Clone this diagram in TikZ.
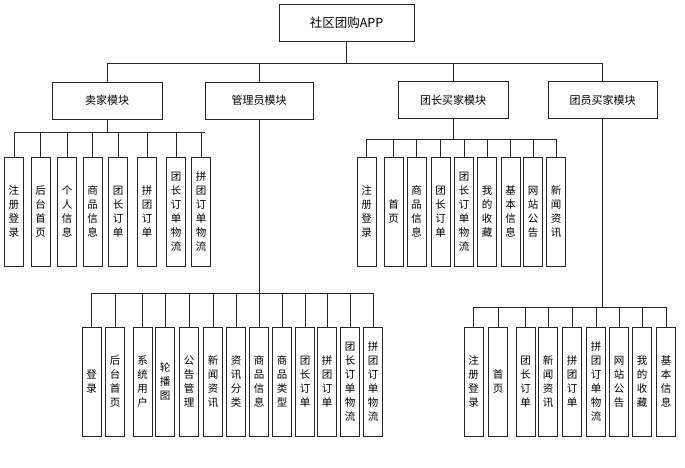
\documentclass[tikz,border=0pt]{standalone}
\usepackage{fontspec}
\setmainfont{Noto Sans CJK SC}
\begin{document}
\begin{tikzpicture}[x=1pt,y=-1pt, line width=0.7pt,
  box/.style={draw=black!85, fill=white, inner sep=0pt, align=center},
  mod/.style={box, minimum width=110pt, minimum height=37pt, font=\fontsize{11}{13}\selectfont},
  leaf/.style={box, minimum width=19pt, minimum height=109pt, font=\fontsize{10.5}{14}\selectfont},
  conn/.style={draw=black!85}]
\useasboundingbox (0,0) rectangle (685,467);
% root and modules
\node[mod, minimum width=135pt, font=\fontsize{12.5}{14}\selectfont] (root) at (346.5,22.5) {社区团购APP};
\node[mod] (seller) at (107,100.5) {卖家模块};
\node[mod, minimum width=108pt] (admin) at (259,100.5) {管理员模块};
\node[mod] (leader) at (453,100) {团长买家模块};
\node[mod, minimum width=109pt] (member) at (602.5,100) {团员买家模块};
% seller leaves
\node[leaf] (s1) at (14,211.5) {注\\册\\登\\录};
\node[leaf] (s2) at (40.5,211.5) {后\\台\\首\\页};
\node[leaf] (s3) at (67,211.5) {个\\人\\信\\息};
\node[leaf] (s4) at (92.5,211.5) {商\\品\\信\\息};
\node[leaf] (s5) at (118,211.5) {团\\长\\订\\单};
\node[leaf] (s6) at (147,211.5) {拼\\团\\订\\单};
\node[leaf] (s7) at (176,211.5) {团\\长\\订\\单\\物\\流};
\node[leaf] (s8) at (201,211.5) {拼\\团\\订\\单\\物\\流};
% leader leaves
\node[leaf] (l1) at (366.5,211.5) {注\\册\\登\\录};
\node[leaf] (l2) at (393.5,211.5) {首\\页};
\node[leaf] (l3) at (416.5,211.5) {商\\品\\信\\息};
\node[leaf] (l4) at (440.5,211.5) {团\\长\\订\\单};
\node[leaf] (l5) at (464,211.5) {团\\长\\订\\单\\物\\流};
\node[leaf] (l6) at (487,211.5) {我\\的\\收\\藏};
\node[leaf] (l7) at (510.5,211.5) {基\\本\\信\\息};
\node[leaf] (l8) at (533,211.5) {网\\站\\公\\告};
\node[leaf] (l9) at (556,211.5) {新\\闻\\资\\讯};
% admin leaves
\node[leaf] (a1) at (91.5,381.5) {登\\录};
\node[leaf] (a2) at (115,381.5) {后\\台\\首\\页};
\node[leaf] (a3) at (142.5,381.5) {系\\统\\用\\户};
\node[leaf] (a4) at (165,381.5) {轮\\播\\图};
\node[leaf] (a5) at (189,381.5) {公\\告\\管\\理};
\node[leaf] (a6) at (213,381.5) {新\\闻\\资\\讯};
\node[leaf] (a7) at (236,381.5) {资\\讯\\分\\类};
\node[leaf] (a8) at (259,381.5) {商\\品\\信\\息};
\node[leaf] (a9) at (282,381.5) {商\\品\\类\\型};
\node[leaf] (a10) at (305,381.5) {团\\长\\订\\单};
\node[leaf] (a11) at (327,381.5) {拼\\团\\订\\单};
\node[leaf] (a12) at (350,381.5) {团\\长\\订\\单\\物\\流};
\node[leaf] (a13) at (373,381.5) {拼\\团\\订\\单\\物\\流};
% member leaves
\node[leaf] (m1) at (473.5,381.5) {注\\册\\登\\录};
\node[leaf] (m2) at (498,381.5) {首\\页};
\node[leaf] (m3) at (525.5,381.5) {团\\长\\订\\单};
\node[leaf] (m4) at (548,381.5) {新\\闻\\资\\讯};
\node[leaf] (m5) at (572,381.5) {拼\\团\\订\\单};
\node[leaf] (m6) at (596,381.5) {拼\\团\\订\\单\\物\\流};
\node[leaf] (m7) at (619,381.5) {网\\站\\公\\告};
\node[leaf] (m8) at (642,381.5) {我\\的\\收\\藏};
\node[leaf] (m9) at (666,381.5) {基\\本\\信\\息};
% top connectors
\draw[conn] (root.south) -- ++(0,22) coordinate (topbar);
\draw[conn] (seller.north |- topbar) -- (member.north |- topbar);
\foreach \m in {seller,admin,leader,member} \draw[conn] (\m.north |- topbar) -- (\m.north);
% seller
\draw[conn] (seller.south) -- ++(0,13) coordinate (sbar);
\draw[conn] (s1.north |- sbar) -- ([xshift=4pt]s8.north |- sbar);
\foreach \i in {1,...,8} \draw[conn] (s\i.north |- sbar) -- (s\i.north);
% leader
\draw[conn] (leader.south) -- ++(0,20) coordinate (lbar);
\draw[conn] (l1.north |- lbar) -- (l9.north |- lbar);
\foreach \i in {1,...,9} \draw[conn] (l\i.north |- lbar) -- (l\i.north);
% admin
\draw[conn] (admin.south) -- ++(0,174) coordinate (abar);
\draw[conn] (a1.north |- abar) -- (a13.north |- abar);
\foreach \i in {1,...,13} \draw[conn] (a\i.north |- abar) -- (a\i.north);
% member
\draw[conn] (member.south) -- ++(0,188.5) coordinate (mbar);
\draw[conn] (m1.north |- mbar) -- (m9.north |- mbar);
\foreach \i in {1,...,9} \draw[conn] (m\i.north |- mbar) -- (m\i.north);
\end{tikzpicture}
\end{document}
